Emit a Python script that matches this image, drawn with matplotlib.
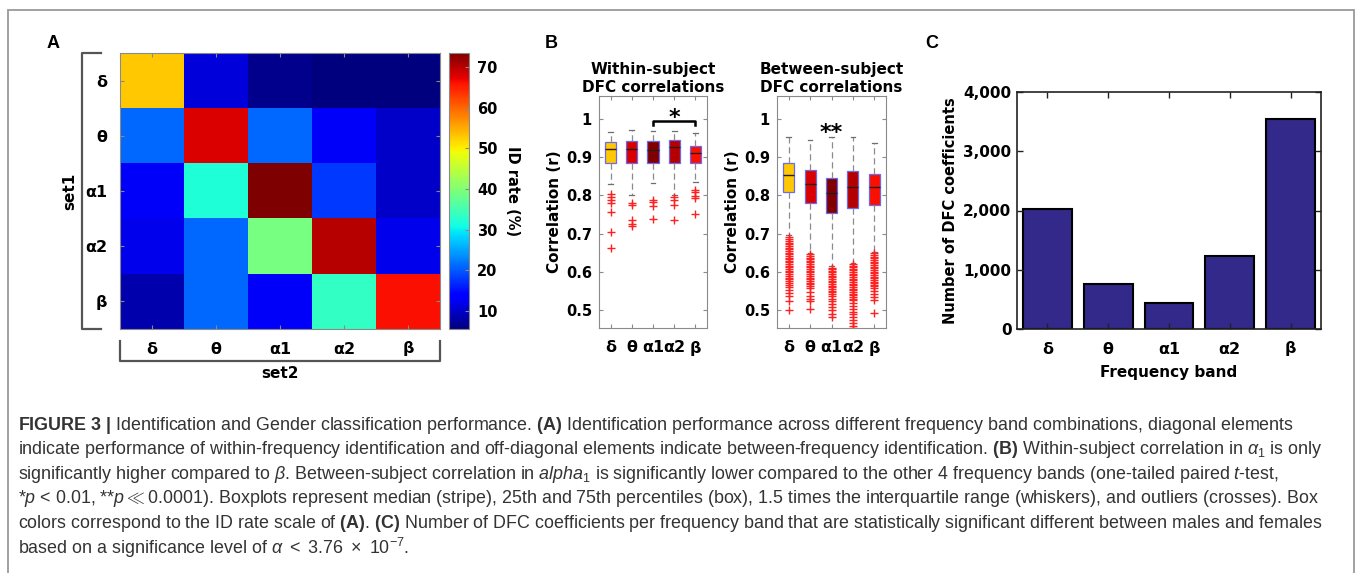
import numpy as np
import matplotlib
matplotlib.use('Agg')
import matplotlib.pyplot as plt
from matplotlib.patches import Rectangle
from matplotlib.ticker import FuncFormatter

plt.rcParams['font.family'] = 'DejaVu Sans'
plt.rcParams['mathtext.fontset'] = 'custom'
plt.rcParams['mathtext.rm'] = 'Liberation Sans'
plt.rcParams['mathtext.it'] = 'Liberation Sans:italic'
plt.rcParams['mathtext.bf'] = 'Liberation Sans:bold'

# data
bands = ['δ', 'θ', 'α1', 'α2', 'β']
id_rate = np.array([
    [53.0, 11.0, 6.5, 5.8, 5.6],
    [21.0, 68.0, 21.0, 13.0, 10.0],
    [13.0, 32.0, 73.4, 18.0, 10.0],
    [12.0, 21.0, 39.0, 70.0, 12.0],
    [8.5, 21.0, 13.0, 33.5, 66.0],
])

# within-subject box stats
w_med = [0.921, 0.921, 0.919, 0.926, 0.911]
w_q1 = [0.886, 0.886, 0.886, 0.884, 0.886]
w_q3 = [0.941, 0.943, 0.943, 0.945, 0.930]
w_lo = [0.830, 0.802, 0.832, 0.800, 0.836]
w_hi = [0.967, 0.971, 0.970, 0.970, 0.963]
w_out = [
    [0.803, 0.796, 0.789, 0.780, 0.757, 0.704, 0.663],
    [0.779, 0.774, 0.735, 0.726, 0.719],
    [0.789, 0.782, 0.772, 0.739],
    [0.796, 0.788, 0.774, 0.735],
    [0.814, 0.808, 0.799, 0.792, 0.750],
]

# between-subject box stats
b_med = [0.853, 0.830, 0.807, 0.821, 0.821]
b_q1 = [0.809, 0.779, 0.755, 0.768, 0.774]
b_q3 = [0.884, 0.867, 0.847, 0.865, 0.856]
b_lo = [0.696, 0.648, 0.614, 0.623, 0.652]
b_hi = [0.954, 0.946, 0.953, 0.953, 0.937]
b_out = [
    [0.690, 0.685, 0.681, 0.676, 0.672, 0.668, 0.663, 0.659, 0.654, 0.650, 0.646,
     0.641, 0.637, 0.632, 0.628, 0.624, 0.619, 0.615, 0.611, 0.606, 0.602, 0.598,
     0.593, 0.589, 0.584, 0.580, 0.576, 0.571, 0.566, 0.559, 0.551, 0.544, 0.535,
     0.524, 0.498],
    [0.645, 0.641, 0.637, 0.632, 0.628, 0.624, 0.619, 0.615, 0.611, 0.606, 0.602,
     0.598, 0.593, 0.589, 0.584, 0.580, 0.576, 0.571, 0.567, 0.562, 0.557, 0.546,
     0.537, 0.528, 0.524, 0.502],
    [0.610, 0.606, 0.602, 0.598, 0.593, 0.589, 0.585, 0.580, 0.576, 0.572, 0.567,
     0.563, 0.559, 0.554, 0.550, 0.546, 0.541, 0.537, 0.529, 0.522, 0.516, 0.508,
     0.500, 0.490, 0.482],
    [0.620, 0.616, 0.611, 0.607, 0.603, 0.598, 0.594, 0.590, 0.585, 0.581, 0.577,
     0.572, 0.568, 0.564, 0.559, 0.555, 0.551, 0.546, 0.542, 0.538, 0.533, 0.529,
     0.525, 0.518, 0.510, 0.503, 0.495, 0.488, 0.480, 0.472, 0.465, 0.458, 0.451],
    [0.648, 0.644, 0.639, 0.635, 0.631, 0.626, 0.622, 0.618, 0.613, 0.609, 0.605,
     0.600, 0.596, 0.592, 0.587, 0.583, 0.579, 0.574, 0.570, 0.566, 0.561, 0.556,
     0.548, 0.540, 0.533, 0.525, 0.492],
]

# gender classification counts
dfc_counts = [2020, 760, 440, 1240, 3540]

caption = [
    r'$\mathbf{FIGURE\ 3\ |}$ Identification and Gender classification performance. $\mathbf{(A)}$ Identification performance across different frequency band combinations, diagonal elements',
    r'indicate performance of within-frequency identification and off-diagonal elements indicate between-frequency identification. $\mathbf{(B)}$ Within-subject correlation in $\alpha_1$ is only',
    r'significantly higher compared to $\beta$. Between-subject correlation in $alpha_1$ is significantly lower compared to the other 4 frequency bands (one-tailed paired $t$-test,',
    r'*$p$ < 0.01, **$p \ll 0.0001$). Boxplots represent median (stripe), 25th and 75th percentiles (box), 1.5 times the interquartile range (whiskers), and outliers (crosses). Box',
    r'colors correspond to the ID rate scale of $\mathbf{(A)}$. $\mathbf{(C)}$ Number of DFC coefficients per frequency band that are statistically significant different between males and females',
    r'based on a significance level of $\alpha\ <\ 3.76\ \times\ 10^{-7}$.',
]

W, H = 1358, 573
fig = plt.figure(figsize=(W / 100, H / 100), dpi=100)


def px_axes(l, t, r, b):
    return fig.add_axes([l / W, 1 - b / H, (r - l) / W, (b - t) / H])


gray = '#8a8a8a'

# ---------------- A: heatmap
axA = px_axes(120, 53, 440, 329)
cmap = plt.get_cmap('jet')
im = axA.imshow(id_rate, cmap=cmap, aspect='auto',
                vmin=id_rate.min(), vmax=id_rate.max())
axA.set_xticks(range(5))
axA.set_yticks(range(5))
axA.set_xticklabels(bands, fontsize=11.5, fontweight='bold')
axA.set_yticklabels(bands, fontsize=11.5, fontweight='bold')
axA.tick_params(direction='in', length=3, color=gray, top=True, right=True, pad=9)
for s in axA.spines.values():
    s.set_color(gray)
    s.set_linewidth(0.8)
br = '#555555'
axA.plot([-0.06, -0.12, -0.12, -0.06], [1, 1, 0, 0], color=br, lw=1.6,
         transform=axA.transAxes, clip_on=False)
axA.plot([0, 0, 1, 1], [-0.045, -0.117, -0.117, -0.045], color=br, lw=1.6,
         transform=axA.transAxes, clip_on=False)
axA.text(-0.158, 0.5, 'set1', rotation=90, ha='center', va='center',
         fontsize=11, fontweight='bold', transform=axA.transAxes)
axA.text(0.5, -0.16, 'set2', ha='center', va='center',
         fontsize=11, fontweight='bold', transform=axA.transAxes)

cax = px_axes(449, 53, 469, 329)
cb = fig.colorbar(im, cax=cax, ticks=[10, 20, 30, 40, 50, 60, 70])
cb.outline.set_edgecolor(gray)
cb.outline.set_linewidth(0.8)
cax.tick_params(direction='in', length=3, color=gray, labelsize=10.5, pad=6)
for t in cax.get_yticklabels():
    t.set_fontweight('bold')
cb.set_label('ID rate (%)', rotation=270, fontsize=10.5, fontweight='bold', labelpad=16)

# ---------------- B: boxplots
box_colors = [cmap((id_rate[i, i] - id_rate.min()) / (id_rate.max() - id_rate.min()))
              for i in range(5)]


def draw_box(ax, med, q1, q3, lo, hi, out, title):
    stats = []
    for i in range(5):
        stats.append(dict(med=med[i], q1=q1[i], q3=q3[i], whislo=lo[i],
                          whishi=hi[i], fliers=out[i]))
    res = ax.bxp(stats, positions=range(1, 6), widths=0.52, patch_artist=True,
                 capwidths=0.22,
                 boxprops=dict(edgecolor='#6a6af0', linewidth=0.9),
                 whiskerprops=dict(color='#8c8c8c', linestyle=(0, (5, 3)), linewidth=0.9),
                 capprops=dict(color='#6e6e6e', linewidth=0.9),
                 medianprops=dict(color='#2a1a1a', linewidth=1.0),
                 flierprops=dict(marker='+', markeredgecolor='#ff2020', markersize=6,
                                 markeredgewidth=1.0, linestyle='none'))
    for patch, c in zip(res['boxes'], box_colors):
        patch.set_facecolor(c)
    ax.set_xlim(0.45, 5.55)
    ax.set_ylim(0.452, 1.061)
    ax.set_yticks([0.5, 0.6, 0.7, 0.8, 0.9, 1.0])
    ax.set_yticklabels(['0.5', '0.6', '0.7', '0.8', '0.9', '1'], fontsize=10.5, fontweight='bold')
    ax.set_xticks(range(1, 6))
    ax.set_xticklabels(bands, fontsize=11.5, fontweight='bold')
    ax.tick_params(direction='in', length=3, color=gray, top=True, right=True)
    ax.tick_params(axis='x', pad=9)
    ax.tick_params(axis='y', pad=5)
    for s in ax.spines.values():
        s.set_color(gray)
        s.set_linewidth(0.8)
    ax.set_ylabel('Correlation (r)', fontsize=11, fontweight='bold', labelpad=3)
    ax.set_title(title, fontsize=11, fontweight='bold', pad=3, linespacing=1.25)


axW = px_axes(599, 96, 707, 328)
draw_box(axW, w_med, w_q1, w_q3, w_lo, w_hi, w_out, 'Within-subject\nDFC correlations')
axW.plot([3, 3, 5, 5], [0.985, 0.996, 0.996, 0.985], color='black', lw=1.8)
axW.text(4, 1.003, '*', ha='center', va='center', fontsize=16, fontweight='bold')

axBt = px_axes(777, 96, 886, 328)
draw_box(axBt, b_med, b_q1, b_q3, b_lo, b_hi, b_out, 'Between-subject\nDFC correlations')
axBt.text(3, 0.965, '**', ha='center', va='center', fontsize=16, fontweight='bold')

# ---------------- C: bar chart
axC = px_axes(1017, 92, 1321, 329)
axC.bar(range(1, 6), dfc_counts, width=0.8, color='#33298a', edgecolor='black', linewidth=1.5)
axC.set_xlim(0.5, 5.5)
axC.set_ylim(0, 4000)
axC.set_yticks([0, 1000, 2000, 3000, 4000])
axC.yaxis.set_major_formatter(FuncFormatter(lambda v, p: f'{int(v):,}'))
axC.set_xticks(range(1, 6))
axC.set_xticklabels(bands, fontsize=11.5, fontweight='bold')
for t in axC.get_yticklabels():
    t.set_fontweight('bold')
    t.set_fontsize(11)
axC.tick_params(direction='in', length=4, color='#222222', top=True, right=True, width=1)
axC.tick_params(axis='x', pad=9)
axC.tick_params(axis='y', pad=4)
for s in axC.spines.values():
    s.set_color('#222222')
    s.set_linewidth(1.2)
axC.set_ylabel('Number of DFC coefficients', fontsize=10.5, fontweight='bold', labelpad=4)
axC.set_xlabel('Frequency band', fontsize=11, fontweight='bold', labelpad=6)

# panel letters
for lab, x in [('A', 53), ('B', 551), ('C', 932)]:
    fig.text(x / W, 1 - 44 / H, lab, ha='center', va='center', fontsize=13,
             fontweight='bold', family='Liberation Sans')

# caption
for i, line in enumerate(caption):
    fig.text(18 / W, 1 - (425 + i * 24.6) / H, line, ha='left', va='center',
             fontsize=12.9, color='#333333', family=['Liberation Sans', 'DejaVu Sans'])

# outer frame
fig.add_artist(Rectangle((8 / W, -0.05), (1354 - 8) / W, 1 - 10 / H + 0.05,
                         transform=fig.transFigure, fill=False,
                         edgecolor='#9a9a9a', linewidth=1.3))

fig.savefig('out.png', dpi=100)
